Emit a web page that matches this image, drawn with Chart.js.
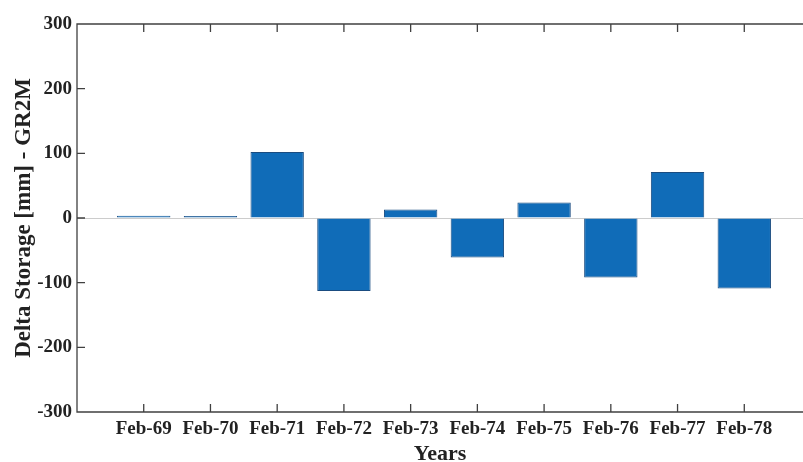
<!DOCTYPE html>
<html>
<head>
<meta charset="utf-8">
<script src="https://cdn.jsdelivr.net/npm/chart.js@4/dist/chart.umd.min.js"></script>
<style>
  html, body { margin: 0; padding: 0; background: #fff; overflow: hidden; }
  #wrap { position: relative; width: 803px; height: 462px; }
</style>
</head>
<body>
<div id="wrap"><canvas id="c"></canvas></div>
<script>
// Data
const categories = ['Feb-69','Feb-70','Feb-71','Feb-72','Feb-73','Feb-74','Feb-75','Feb-76','Feb-77','Feb-78'];
const deltaStorage = [3.5, 3, 102, -113, 13, -61, 24, -92, 71, -109];
const yTicks = [-300, -200, -100, 0, 100, 200, 300];
const xPositions = categories.map((c, i) => i + 1);   // MATLAB-style x = 1..10

const points = categories.map((c, i) => ({ x: xPositions[i], y: deltaStorage[i] }));

const axisColor = '#404040';
const serif = '"Liberation Serif", "Times New Roman", serif';

const framePlugin = {
  id: 'frame',
  afterDatasetsDraw(chart) {
    const {ctx, chartArea: a, scales} = chart;
    const rightEdge = scales.x.getPixelForValue(xPositions.length + 1); // full axes box edge (cropped)
    ctx.save();
    ctx.strokeStyle = axisColor;
    ctx.lineWidth = 1.3;
    ctx.beginPath();
    ctx.moveTo(rightEdge, a.top); ctx.lineTo(a.left, a.top);
    ctx.lineTo(a.left, a.bottom); ctx.lineTo(rightEdge, a.bottom); ctx.lineTo(rightEdge, a.top);
    const tl = 8;
    xPositions.forEach(v => {
      const x = scales.x.getPixelForValue(v);
      ctx.moveTo(x, a.bottom); ctx.lineTo(x, a.bottom - tl);
      ctx.moveTo(x, a.top); ctx.lineTo(x, a.top + tl);
    });
    yTicks.forEach(v => {
      const y = scales.y.getPixelForValue(v);
      ctx.moveTo(a.left, y); ctx.lineTo(a.left + tl, y);
      ctx.moveTo(rightEdge, y); ctx.lineTo(rightEdge - tl, y);
    });
    ctx.stroke();
    ctx.restore();
  }
};

new Chart(document.getElementById('c'), {
  type: 'bar',
  data: {
    datasets: [{
      data: points,
      backgroundColor: '#106cb8',
      borderColor: '#1a4c80',
      borderWidth: 1,
      categoryPercentage: 1.0,
      barPercentage: 0.8
    }]
  },
  options: {
    responsive: true,
    maintainAspectRatio: false,
    animation: false,
    layout: { padding: { top: 24, right: 0, left: 0, bottom: 0 } },
    plugins: { legend: { display: false }, tooltip: { enabled: false } },
    scales: {
      x: {
        type: 'linear',
        offset: false,
        min: 0,
        max: 10.88,
        afterBuildTicks: s => { s.ticks = xPositions.map(v => ({ value: v })); },
        grid: { display: false, drawTicks: false },
        border: { display: false },
        ticks: {
          color: '#222',
          padding: 6,
          maxRotation: 0,
          autoSkip: false,
          callback: v => categories[v - 1] || '',
          font: { family: serif, size: 19, weight: 'bold' }
        },
        title: {
          display: true,
          text: 'Years',
          color: '#222',
          padding: { top: 0, bottom: -6 },
          font: { family: serif, size: 22, weight: 'bold' }
        },
        afterFit: s => { s.height = 50; }
      },
      y: {
        min: -300,
        max: 300,
        afterBuildTicks: s => { s.ticks = yTicks.map(v => ({ value: v })); },
        grid: {
          drawTicks: false,
          color: ctx => (ctx.tick && ctx.tick.value === 0) ? '#cccccc' : 'rgba(0,0,0,0)',
          lineWidth: 1
        },
        border: { display: false },
        ticks: {
          color: '#222',
          padding: 5,
          font: { family: serif, size: 19, weight: 'bold' }
        },
        title: {
          display: true,
          text: 'Delta Storage [mm] - GR2M',
          color: '#222',
          padding: { top: 10, bottom: 0 },
          font: { family: serif, size: 23, weight: 'bold' }
        },
        afterFit: s => { s.width = 77; }
      }
    }
  },
  plugins: [framePlugin]
});
</script>
</body>
</html>
